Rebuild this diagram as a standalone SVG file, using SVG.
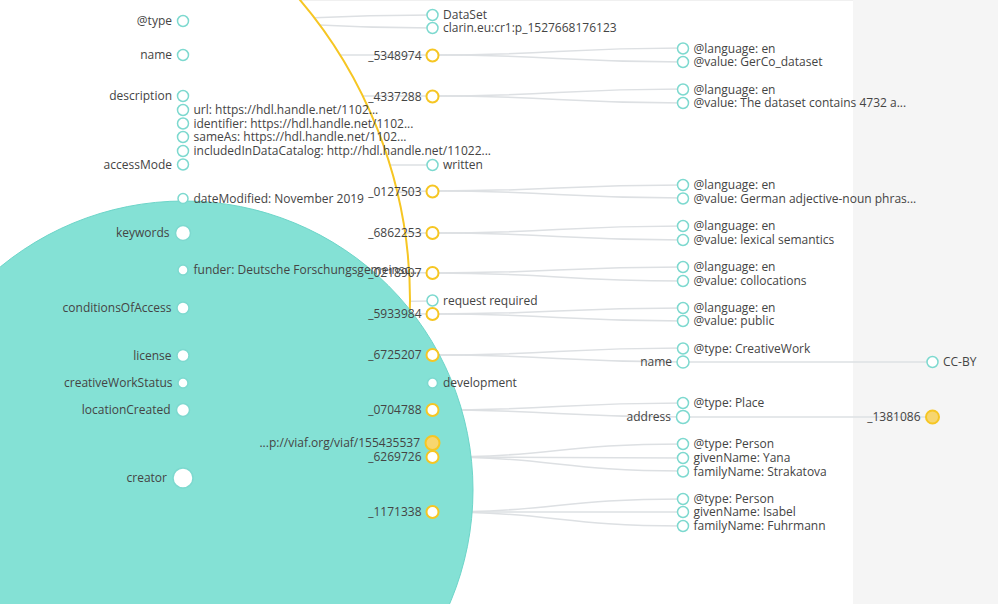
<svg xmlns="http://www.w3.org/2000/svg" width="998" height="604" viewBox="0 0 998 604">
<style>
text{font-family:"Open Sans","Noto Sans","DejaVu Sans",sans-serif;font-size:12px;fill:#444}
.lk path{fill:none;stroke:#dde0e3;stroke-width:1.5}
.n circle{fill:#fff;stroke:#7dd9cf;stroke-width:1.5}
.b circle{fill:#fff;stroke:#f6c623;stroke-width:2}
.f circle{fill:#f7d66f;stroke:#f6c623;stroke-width:2}
.e text{text-anchor:end}
</style>
<rect x="0" y="0" width="998" height="604" fill="#fff"/>
<rect x="853" y="0" width="145" height="604" fill="#f5f5f5"/>
<line x1="0" y1="0.5" x2="853" y2="0.5" stroke="#f0f0f0"/>
<g id="connectors" class="lk">
<path d="M183,21 C307.5,21 307.5,15 432,15"/>
<path d="M183,21 C307.5,21 307.5,28 432,28"/>
<path d="M183,55 L432,55"/>
<path d="M183,96 L432,96"/>
<path d="M183,165 L432,165"/>
<path d="M183,233 C307.5,233 307.5,191 432,191"/>
<path d="M183,233 L432,233"/>
<path d="M183,233 C307.5,233 307.5,273 432,273"/>
<path d="M183,308 C307.5,308 307.5,301 432,301"/>
<path d="M183,308 C307.5,308 307.5,314 432,314"/>
<path d="M183,355 L432,355"/>
<path d="M183,383 L432,383"/>
<path d="M183,410 L432,410"/>
<path d="M183,478 C307.5,478 307.5,443 432,443"/>
<path d="M183,478 C307.5,478 307.5,457 432,457"/>
<path d="M183,478 C307.5,478 307.5,512 432,512"/>
<path d="M432,55 C557.5,55 557.5,48 683,48"/>
<path d="M432,55 C557.5,55 557.5,62 683,62"/>
<path d="M432,96 C557.5,96 557.5,89 683,89"/>
<path d="M432,96 C557.5,96 557.5,103 683,103"/>
<path d="M432,191 C557.5,191 557.5,185 683,185"/>
<path d="M432,191 C557.5,191 557.5,198 683,198"/>
<path d="M432,233 C557.5,233 557.5,226 683,226"/>
<path d="M432,233 C557.5,233 557.5,240 683,240"/>
<path d="M432,273 C557.5,273 557.5,267 683,267"/>
<path d="M432,273 C557.5,273 557.5,281 683,281"/>
<path d="M432,314 C557.5,314 557.5,308 683,308"/>
<path d="M432,314 C557.5,314 557.5,321 683,321"/>
<path d="M432,355 C557.5,355 557.5,348 683,348"/>
<path d="M432,355 C557.5,355 557.5,362 683,362"/>
<path d="M432,410 C557.5,410 557.5,403 683,403"/>
<path d="M432,410 C557.5,410 557.5,417 683,417"/>
<path d="M432,457 C557.5,457 557.5,444 683,444"/>
<path d="M432,457 C557.5,457 557.5,458 683,458"/>
<path d="M432,457 C557.5,457 557.5,471 683,471"/>
<path d="M432,512 C557.5,512 557.5,499 683,499"/>
<path d="M432,512 L683,512"/>
<path d="M432,512 C557.5,512 557.5,526 683,526"/>
<path d="M683,362 L933,362"/>
<path d="M683,417 L933,417"/>
</g>
<circle id="focus-ring" cx="-54" cy="300" r="464" fill="#fff" stroke="#f6c623" stroke-width="2"/>
<circle id="focus-bubble" cx="184" cy="490" r="289" fill="#84e1d5" stroke="#6dd5c9" stroke-width="1"/>
<g id="nodes">
<g id="n-type" class="n e" transform="translate(183,21)"><circle r="5.5"/><text x="-11" dy="4.2">@type</text></g>
<g id="n-name" class="n e" transform="translate(183,55)"><circle r="5.5"/><text x="-11" dy="4.2">name</text></g>
<g id="n-description" class="n e" transform="translate(183,96)"><circle r="5.5"/><text x="-11" dy="4.2">description</text></g>
<g id="n-url" class="n" transform="translate(183,110)"><circle r="5.5"/><text x="10.5" dy="4.2">url: https://hdl.handle.net/1102...</text></g>
<g id="n-identifier" class="n" transform="translate(183,123.5)"><circle r="5.5"/><text x="10.5" dy="4.2">identifier: https://hdl.handle.net/1102...</text></g>
<g id="n-sameas" class="n" transform="translate(183,137)"><circle r="5.5"/><text x="10.5" dy="4.2">sameAs: https://hdl.handle.net/1102...</text></g>
<g id="n-catalog" class="n" transform="translate(183,151)"><circle r="5.5"/><text x="10.5" dy="4.2">includedInDataCatalog: http://hdl.handle.net/11022...</text></g>
<g id="n-accessmode" class="n e" transform="translate(183,164.5)"><circle r="5.5"/><text x="-11" dy="4.2">accessMode</text></g>
<g id="n-datemodified" class="n" transform="translate(183,198.5)"><circle r="5"/><text x="10.5" dy="4.2">dateModified: November 2019</text></g>
<g id="n-keywords" class="n e" transform="translate(183,233)"><circle r="7.5"/><text x="-13.5" dy="4.2">keywords</text></g>
<g id="n-funder" class="n" transform="translate(183,270)"><circle r="5"/><text x="10.5" dy="4.2">funder: Deutsche Forschungsgemeinsc...</text></g>
<g id="n-conditions" class="n e" transform="translate(183,308)"><circle r="6"/><text x="-11.5" dy="4.2">conditionsOfAccess</text></g>
<g id="n-license" class="n e" transform="translate(183,355.5)"><circle r="6"/><text x="-11.5" dy="4.2">license</text></g>
<g id="n-status" class="n e" transform="translate(183,383)"><circle r="5"/><text x="-10.5" dy="4.2">creativeWorkStatus</text></g>
<g id="n-location" class="n e" transform="translate(183,410)"><circle r="6.5"/><text x="-12.5" dy="4.2">locationCreated</text></g>
<g id="n-creator" class="n e" transform="translate(183,478)"><circle r="10"/><text x="-16" dy="4.2">creator</text></g>

<g id="n-dataset" class="n" transform="translate(432.5,15)"><circle r="5.5"/><text x="10.5" dy="4.2">DataSet</text></g>
<g id="n-clarin" class="n" transform="translate(432.5,28)"><circle r="5.5"/><text x="10.5" dy="4.2">clarin.eu:cr1:p_1527668176123</text></g>
<g id="n-5348974" class="b e" transform="translate(432.5,55.5)"><circle r="6"/><text x="-11" dy="4.2">_5348974</text></g>
<g id="n-4337288" class="b e" transform="translate(432.5,96.5)"><circle r="6"/><text x="-11" dy="4.2">_4337288</text></g>
<g id="n-written" class="n" transform="translate(432.5,165)"><circle r="5.5"/><text x="10.5" dy="4.2">written</text></g>
<g id="n-0127503" class="b e" transform="translate(432.5,191.5)"><circle r="6"/><text x="-11" dy="4.2">_0127503</text></g>
<g id="n-6862253" class="b e" transform="translate(432.5,233)"><circle r="6"/><text x="-11" dy="4.2">_6862253</text></g>
<g id="n-0218907" class="b e" transform="translate(432.5,273)"><circle r="6"/><text x="-11" dy="4.2">_0218907</text></g>
<g id="n-request" class="n" transform="translate(432.5,300.5)"><circle r="5.5"/><text x="10.5" dy="4.2">request required</text></g>
<g id="n-5933984" class="b e" transform="translate(432.5,314)"><circle r="6"/><text x="-11" dy="4.2">_5933984</text></g>
<g id="n-6725207" class="b e" transform="translate(432.5,355)"><circle r="6"/><text x="-11" dy="4.2">_6725207</text></g>
<g id="n-development" class="n" transform="translate(432.5,383)"><circle r="5"/><text x="10.5" dy="4.2">development</text></g>
<g id="n-0704788" class="b e" transform="translate(432.5,410)"><circle r="6"/><text x="-11" dy="4.2">_0704788</text></g>
<g id="n-viaf" class="f e" transform="translate(432.5,443)"><circle r="7"/><text x="-12.5" dy="4.2">...p://viaf.org/viaf/155435537</text></g>
<g id="n-6269726" class="b e" transform="translate(432.5,457)"><circle r="6"/><text x="-11" dy="4.2">_6269726</text></g>
<g id="n-1171338" class="b e" transform="translate(432.5,512)"><circle r="6"/><text x="-11" dy="4.2">_1171338</text></g>

<g id="n-lang1" class="n" transform="translate(683,48.5)"><circle r="5.5"/><text x="10.5" dy="4.2">@language: en</text></g>
<g id="n-val1" class="n" transform="translate(683,62)"><circle r="5.5"/><text x="10.5" dy="4.2">@value: GerCo_dataset</text></g>
<g id="n-lang2" class="n" transform="translate(683,89.5)"><circle r="5.5"/><text x="10.5" dy="4.2">@language: en</text></g>
<g id="n-val2" class="n" transform="translate(683,103)"><circle r="5.5"/><text x="10.5" dy="4.2">@value: The dataset contains 4732 a...</text></g>
<g id="n-lang3" class="n" transform="translate(683,185)"><circle r="5.5"/><text x="10.5" dy="4.2">@language: en</text></g>
<g id="n-val3" class="n" transform="translate(683,198.5)"><circle r="5.5"/><text x="10.5" dy="4.2">@value: German adjective-noun phras...</text></g>
<g id="n-lang4" class="n" transform="translate(683,226)"><circle r="5.5"/><text x="10.5" dy="4.2">@language: en</text></g>
<g id="n-val4" class="n" transform="translate(683,240)"><circle r="5.5"/><text x="10.5" dy="4.2">@value: lexical semantics</text></g>
<g id="n-lang5" class="n" transform="translate(683,267)"><circle r="5.5"/><text x="10.5" dy="4.2">@language: en</text></g>
<g id="n-val5" class="n" transform="translate(683,281)"><circle r="5.5"/><text x="10.5" dy="4.2">@value: collocations</text></g>
<g id="n-lang6" class="n" transform="translate(683,308)"><circle r="5.5"/><text x="10.5" dy="4.2">@language: en</text></g>
<g id="n-val6" class="n" transform="translate(683,321)"><circle r="5.5"/><text x="10.5" dy="4.2">@value: public</text></g>
<g id="n-cwtype" class="n" transform="translate(683,348.5)"><circle r="5.5"/><text x="10.5" dy="4.2">@type: CreativeWork</text></g>
<g id="n-cwname" class="n e" transform="translate(683,362)"><circle r="6"/><text x="-11" dy="4.2">name</text></g>
<g id="n-placetype" class="n" transform="translate(683,403)"><circle r="5.5"/><text x="10.5" dy="4.2">@type: Place</text></g>
<g id="n-address" class="n e" transform="translate(683,417)"><circle r="6.5"/><text x="-12" dy="4.2">address</text></g>
<g id="n-p1type" class="n" transform="translate(683,444)"><circle r="5.5"/><text x="10.5" dy="4.2">@type: Person</text></g>
<g id="n-p1given" class="n" transform="translate(683,458)"><circle r="5.5"/><text x="10.5" dy="4.2">givenName: Yana</text></g>
<g id="n-p1family" class="n" transform="translate(683,471.5)"><circle r="5.5"/><text x="10.5" dy="4.2">familyName: Strakatova</text></g>
<g id="n-p2type" class="n" transform="translate(683,499)"><circle r="5.5"/><text x="10.5" dy="4.2">@type: Person</text></g>
<g id="n-p2given" class="n" transform="translate(683,512)"><circle r="5.5"/><text x="10.5" dy="4.2">givenName: Isabel</text></g>
<g id="n-p2family" class="n" transform="translate(683,526)"><circle r="5.5"/><text x="10.5" dy="4.2">familyName: Fuhrmann</text></g>

<g id="n-ccby" class="n" transform="translate(932.5,362)"><circle r="5.5"/><text x="10.5" dy="4.2">CC-BY</text></g>
<g id="n-1381086" class="f e" transform="translate(932.5,417)"><circle r="6.5"/><text x="-12" dy="4.2">_1381086</text></g>
</g>
</svg>
